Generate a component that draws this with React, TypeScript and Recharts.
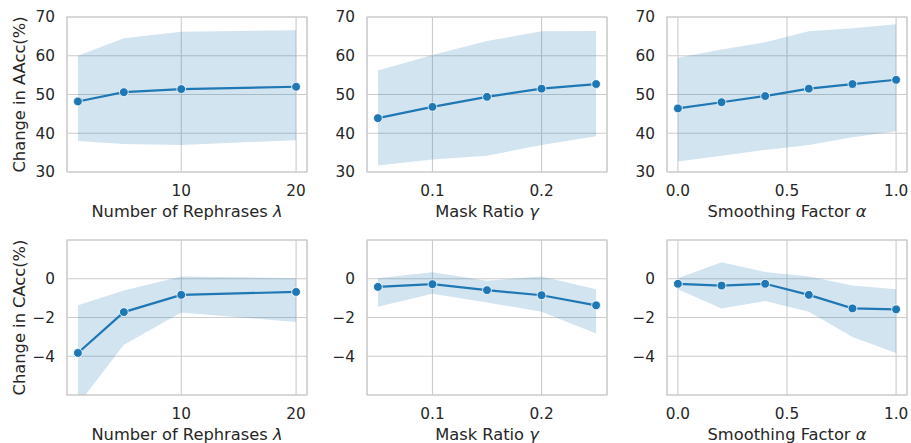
import {
  Area,
  CartesianGrid,
  ComposedChart,
  Line,
  ReferenceArea,
  XAxis,
  YAxis,
} from "recharts";

const FONT = '"DejaVu Sans", sans-serif';
const BLUE = "#1f77b4";
const TEXT = "#262626";
const GRID = "#cccccc";

// x positions of each sweep
const rephrases = [1, 5, 10, 20];
const maskRatios = [0.05, 0.1, 0.15, 0.2, 0.25];
const smoothing = [0, 0.2, 0.4, 0.6, 0.8, 1.0];

// change in AAcc (%): mean with lower / upper band
const rephrasesAAcc = [48.2, 50.6, 51.4, 52.0];
const rephrasesAAccLow = [38.0, 37.2, 37.0, 38.2];
const rephrasesAAccHigh = [60.0, 64.5, 66.2, 66.6];

const maskAAcc = [43.9, 46.8, 49.4, 51.5, 52.7];
const maskAAccLow = [31.7, 33.2, 34.2, 37.0, 39.2];
const maskAAccHigh = [56.2, 60.2, 63.8, 66.3, 66.4];

const smoothAAcc = [46.4, 48.0, 49.6, 51.5, 52.7, 53.8];
const smoothAAccLow = [32.7, 34.2, 35.7, 37.0, 39.0, 40.5];
const smoothAAccHigh = [59.5, 61.6, 63.5, 66.3, 67.1, 68.1];

// change in CAcc (%)
const rephrasesCAcc = [-3.83, -1.72, -0.83, -0.68];
const rephrasesCAccLow = [-6.5, -3.41, -1.74, -2.23];
const rephrasesCAccHigh = [-1.37, -0.61, 0.12, 0.03];

const maskCAcc = [-0.42, -0.28, -0.59, -0.85, -1.37];
const maskCAccLow = [-1.44, -0.78, -1.23, -1.7, -2.83];
const maskCAccHigh = [0.03, 0.33, -0.1, 0.12, -0.54];

const smoothCAcc = [-0.26, -0.35, -0.26, -0.83, -1.53, -1.58];
const smoothCAccLow = [-0.54, -1.53, -1.15, -1.7, -3.01, -3.83];
const smoothCAccHigh = [0.03, 0.85, 0.35, 0.12, -0.35, -0.54];

const aaccTicks = [30, 40, 50, 60, 70];
const caccTicks = [-4, -2, 0];

type Col = {
  xs: number[];
  domain: [number, number];
  ticks: number[];
  format: (v: number) => string;
  label: string;
  greek: string;
};

const columns: Col[] = [
  { xs: rephrases, domain: [0.05, 20.95], ticks: [10, 20], format: (v) => `${v}`, label: "Number of Rephrases ", greek: "λ" },
  { xs: maskRatios, domain: [0.04, 0.26], ticks: [0.1, 0.2], format: (v) => v.toFixed(1), label: "Mask Ratio ", greek: "γ" },
  { xs: smoothing, domain: [-0.05, 1.05], ticks: [0, 0.5, 1], format: (v) => v.toFixed(1), label: "Smoothing Factor ", greek: "α" },
];

const rows = [
  {
    top: 17,
    domain: [30, 70] as [number, number],
    ticks: aaccTicks,
    title: "Change in AAcc(%)",
    series: [
      [rephrasesAAcc, rephrasesAAccLow, rephrasesAAccHigh],
      [maskAAcc, maskAAccLow, maskAAccHigh],
      [smoothAAcc, smoothAAccLow, smoothAAccHigh],
    ],
  },
  {
    top: 240,
    domain: [-6, 2] as [number, number],
    ticks: caccTicks,
    title: "Change in CAcc(%)",
    series: [
      [rephrasesCAcc, rephrasesCAccLow, rephrasesCAccHigh],
      [maskCAcc, maskCAccLow, maskCAccHigh],
      [smoothCAcc, smoothCAccLow, smoothCAccHigh],
    ],
  },
];

const colLeft = [67, 367, 667];
const PLOT_W = 240;
const PLOT_H = 155;
const AXIS_W = 60;
const AXIS_H = 55;
const PAD = 10;

const fmtY = (v: number) => (v < 0 ? `\u2212${Math.abs(v)}` : `${v}`);

function XTitle({ viewBox, text, greek }: any) {
  if (!viewBox) return null;
  return (
    <text
      x={viewBox.x + viewBox.width / 2}
      y={viewBox.y + 45}
      textAnchor="middle"
      fill={TEXT}
      fontSize={16.3}
      fontFamily={FONT}
    >
      {text}
      <tspan fontStyle="italic">{greek}</tspan>
    </text>
  );
}

function YTitle({ viewBox, text }: any) {
  if (!viewBox) return null;
  const cy = viewBox.y + viewBox.height / 2;
  return (
    <text
      transform={`translate(${viewBox.x + 17.5}, ${cy}) rotate(-90)`}
      textAnchor="middle"
      fill={TEXT}
      fontSize={16.3}
      fontFamily={FONT}
    >
      {text}
    </text>
  );
}

function Panel({ row, ci }: { row: (typeof rows)[number]; ci: number }) {
  const col = columns[ci];
  const [mean, lo, hi] = row.series[ci];
  const data = col.xs.map((x, i) => ({ x, mean: mean[i], band: [lo[i], hi[i]] }));
  return (
    <div
      style={{
        position: "absolute",
        left: colLeft[ci] - AXIS_W,
        top: row.top - PAD,
      }}
    >
      <ComposedChart
        width={AXIS_W + PLOT_W + PAD}
        height={PAD + PLOT_H + AXIS_H}
        data={data}
        margin={{ top: PAD, right: PAD, bottom: 0, left: 0 }}
      >
        <CartesianGrid stroke={GRID} strokeWidth={1.1} />
        <XAxis
          type="number"
          dataKey="x"
          domain={col.domain}
          ticks={col.ticks}
          allowDataOverflow
          interval={0}
          tickFormatter={col.format}
          axisLine={false}
          tickLine={false}
          tickSize={0}
          tickMargin={13}
          height={AXIS_H}
          tick={{ fill: TEXT, fontSize: 15.3, fontFamily: FONT }}
          label={<XTitle text={col.label} greek={col.greek} />}
        />
        <YAxis
          type="number"
          domain={row.domain}
          ticks={row.ticks}
          allowDataOverflow
          interval={0}
          tickFormatter={fmtY}
          axisLine={false}
          tickLine={false}
          tickSize={0}
          tickMargin={12}
          width={AXIS_W}
          tick={{ fill: TEXT, fontSize: 15.3, fontFamily: FONT }}
          label={ci === 0 ? <YTitle text={row.title} /> : undefined}
        />
        <Area
          dataKey="band"
          type="linear"
          fill={BLUE}
          fillOpacity={0.2}
          stroke="none"
          isAnimationActive={false}
        />
        <Line
          dataKey="mean"
          type="linear"
          stroke={BLUE}
          strokeWidth={2.2}
          dot={{ r: 4.4, fill: BLUE, stroke: "#ffffff", strokeWidth: 0.8 }}
          activeDot={false}
          isAnimationActive={false}
        />
        <ReferenceArea
          x1={col.domain[0]}
          x2={col.domain[1]}
          y1={row.domain[0]}
          y2={row.domain[1]}
          fill="none"
          stroke={GRID}
          strokeWidth={1.2}
          ifOverflow="visible"
        />
      </ComposedChart>
    </div>
  );
}

export default function App() {
  return (
    <div
      style={{
        position: "absolute",
        left: 0,
        top: 0,
        width: 911,
        height: 443,
        background: "#ffffff",
        fontFamily: FONT,
      }}
    >
      {rows.map((row, ri) =>
        columns.map((_, ci) => <Panel key={`${ri}-${ci}`} row={row} ci={ci} />)
      )}
    </div>
  );
}
